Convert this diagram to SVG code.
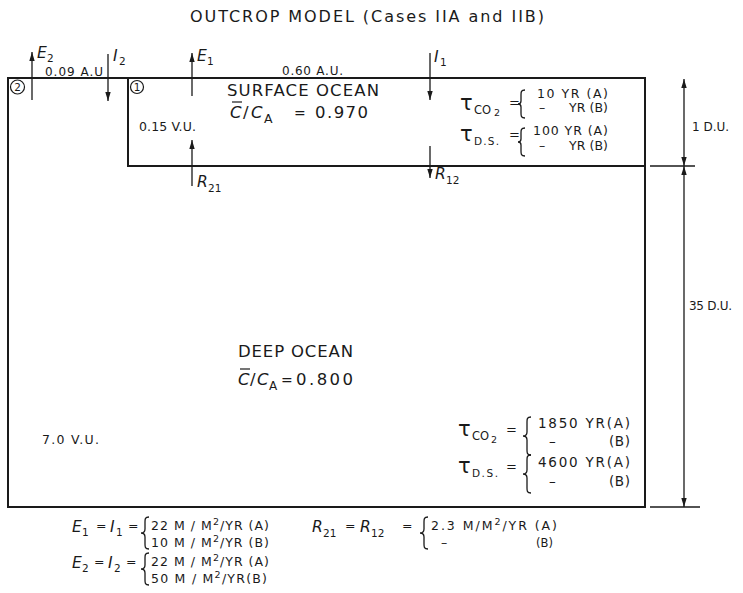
<svg xmlns="http://www.w3.org/2000/svg" width="743" height="593" viewBox="0 0 743 593">
<defs>
<style>
.t{font-family:"DejaVu Sans","Liberation Sans",sans-serif;fill:#1a1a1a}
.i{font-style:italic}
.box{stroke:#1a1a1a;stroke-width:2;fill:none}
.ar{stroke:#1a1a1a;stroke-width:1.3;fill:none}
.br{stroke:#1a1a1a;stroke-width:1.3;fill:none}
.tau{font-family:"DejaVu Sans",sans-serif;fill:#1a1a1a;font-size:21px}
</style>
<marker id="ah" viewBox="0 0 10 6" refX="10" refY="3" markerWidth="9" markerHeight="5.4" orient="auto" markerUnits="userSpaceOnUse">
<path d="M0,0 L10,3 L0,6 Z" fill="#1a1a1a"/>
</marker>
</defs>
<rect width="743" height="593" fill="#ffffff"/>

<text class="t" x="190" y="22" font-size="16" textLength="354">OUTCROP  MODEL  (Cases IIA and IIB)</text>

<g id="deep-ocean">
<path class="box" d="M8,78 H645 V507 H8 Z"/>
<circle cx="17.5" cy="87" r="7" fill="none" stroke="#1a1a1a" stroke-width="1.2"/>
<text class="t" x="17.5" y="91" font-size="10.5" text-anchor="middle">2</text>
<text class="t" x="45" y="76" font-size="12" textLength="58">0.09 A.U</text>
<text class="t" x="238" y="357" font-size="16.5" textLength="115">DEEP OCEAN</text>
<text class="t i" x="238" y="385" font-size="16.5">C</text>
<line x1="240" y1="369" x2="250" y2="369" stroke="#1a1a1a" stroke-width="1.2"/>
<text class="t" x="250" y="385" font-size="16.5">/</text>
<text class="t i" x="257" y="385" font-size="16.5">C</text>
<text class="t" x="269" y="390" font-size="12">A</text>
<text class="t" x="281" y="385" font-size="14">=</text>
<text class="t" x="296" y="385" font-size="16.5" textLength="57">0.800</text>
<text class="t" x="42" y="444" font-size="12.5" textLength="57">7.0 V.U.</text>
<text class="tau" x="458" y="436">τ</text>
<text class="t" x="472" y="440" font-size="11.5">CO</text>
<text class="t" x="491" y="443" font-size="9.5">2</text>
<text class="t" x="506" y="434" font-size="13">=</text>
<path class="br" d="M531,417 C527,417 527,419 527,422 L527,432 C527,434 526,436 523,436 C526,436 527,438 527,440 L527,450 C527,453 527,455 531,455"/>
<text class="t" x="538" y="428" font-size="13.5" textLength="92">1850 YR(A)</text>
<text class="t" x="549" y="446" font-size="13.5">–</text>
<text class="t" x="609" y="446" font-size="13.5" textLength="21">(B)</text>
<text class="tau" x="458" y="473">τ</text>
<text class="t" x="472" y="477" font-size="10.5" textLength="26">D.S.</text>
<text class="t" x="506" y="471" font-size="13">=</text>
<path class="br" d="M531,455 C527,455 527,457 527,460 L527,470 C527,472 526,474 523,474 C526,474 527,476 527,478 L527,488 C527,491 527,493 531,493"/>
<text class="t" x="538" y="467" font-size="13.5" textLength="92">4600 YR(A)</text>
<text class="t" x="549" y="486" font-size="13.5">–</text>
<text class="t" x="609" y="486" font-size="13.5" textLength="21">(B)</text>
</g>

<g id="surface-ocean">
<path class="box" d="M128,78 V166 H645"/>
<circle cx="137" cy="87" r="6.5" fill="none" stroke="#1a1a1a" stroke-width="1.2"/>
<text class="t" x="137" y="91" font-size="10.5" text-anchor="middle">1</text>
<text class="t" x="282" y="75" font-size="12" textLength="61">0.60 A.U.</text>
<text class="t" x="227" y="96" font-size="16.5" textLength="152">SURFACE OCEAN</text>
<text class="t i" x="230" y="118" font-size="16.5">C</text>
<line x1="232" y1="102" x2="242" y2="102" stroke="#1a1a1a" stroke-width="1.2"/>
<text class="t" x="243" y="118" font-size="16.5">/</text>
<text class="t i" x="251" y="118" font-size="16.5">C</text>
<text class="t" x="264" y="123" font-size="12.5">A</text>
<text class="t" x="294" y="118" font-size="14">=</text>
<text class="t" x="315" y="118" font-size="16.5" textLength="53">0.970</text>
<text class="t" x="139" y="131" font-size="12.5" textLength="57">0.15 V.U.</text>
<text class="tau" x="460" y="110">τ</text>
<text class="t" x="474" y="114" font-size="11.5">CO</text>
<text class="t" x="494" y="116" font-size="9.5">2</text>
<text class="t" x="509" y="107" font-size="13">=</text>
<path class="br" d="M525,90 C521,90 521,92 521,95 L521,101 C521,103 520,104 518,104 C520,104 521,105 521,107 L521,113 C521,116 521,118 525,118"/>
<text class="t" x="537" y="98" font-size="12.5" textLength="71">10  YR (A)</text>
<text class="t" x="539" y="112" font-size="12.5">–</text>
<text class="t" x="569" y="112" font-size="12.5" textLength="39">YR (B)</text>
<text class="tau" x="460" y="141">τ</text>
<text class="t" x="474" y="145" font-size="10.5" textLength="25">D.S.</text>
<text class="t" x="509" y="139" font-size="13">=</text>
<path class="br" d="M525,128 C521,128 521,130 521,133 L521,139 C521,141 520,142 518,142 C520,142 521,143 521,145 L521,151 C521,154 521,156 525,156"/>
<text class="t" x="533" y="135" font-size="12.5" textLength="75">100 YR (A)</text>
<text class="t" x="539" y="150" font-size="12.5">–</text>
<text class="t" x="569" y="150" font-size="12.5" textLength="39">YR (B)</text>
</g>

<g id="connectors">
<line class="ar" x1="32" y1="100" x2="32" y2="52" marker-end="url(#ah)"/>
<line class="ar" x1="108" y1="54" x2="108" y2="101" marker-end="url(#ah)"/>
<line class="ar" x1="192" y1="96" x2="192" y2="53" marker-end="url(#ah)"/>
<line class="ar" x1="430" y1="53" x2="430" y2="100" marker-end="url(#ah)"/>
<line class="ar" x1="192" y1="186" x2="192" y2="140" marker-end="url(#ah)"/>
<line class="ar" x1="430" y1="146" x2="430" y2="178" marker-end="url(#ah)"/>
<line class="ar" x1="650" y1="166" x2="695" y2="166"/>
<line class="ar" x1="650" y1="507" x2="700" y2="507"/>
<line class="ar" x1="684" y1="122" x2="684" y2="79" marker-end="url(#ah)"/>
<line class="ar" x1="684" y1="122" x2="684" y2="166" marker-end="url(#ah)"/>
<line class="ar" x1="684" y1="300" x2="684" y2="166" marker-end="url(#ah)"/>
<line class="ar" x1="684" y1="300" x2="684" y2="507" marker-end="url(#ah)"/>
</g>

<g id="flux-labels">
<text class="t i" x="37" y="58" font-size="15.5">E</text>
<text class="t" x="47" y="62" font-size="10.5">2</text>
<text class="t i" x="113" y="61" font-size="15.5">I</text>
<text class="t" x="119" y="65" font-size="10.5">2</text>
<text class="t i" x="197" y="61" font-size="15.5">E</text>
<text class="t" x="207" y="65" font-size="10.5">1</text>
<text class="t i" x="434" y="62" font-size="15.5">I</text>
<text class="t" x="440" y="66" font-size="10.5">1</text>
<text class="t i" x="197" y="187" font-size="15.5">R</text>
<text class="t" x="208" y="192" font-size="10.5">21</text>
<text class="t i" x="435" y="179" font-size="15.5">R</text>
<text class="t" x="446" y="184" font-size="10.5">12</text>
<text class="t" x="692" y="131" font-size="12">1 D.U.</text>
<text class="t" x="689" y="310" font-size="12" textLength="43">35 D.U.</text>
</g>

<g id="legend">
<text class="t i" x="72" y="532" font-size="15.5">E</text>
<text class="t" x="82" y="536" font-size="10.5">1</text>
<text class="t" x="96" y="530" font-size="12.5">=</text>
<text class="t i" x="110" y="532" font-size="15.5">I</text>
<text class="t" x="116" y="536" font-size="10.5">1</text>
<text class="t" x="128" y="530" font-size="12.5">=</text>
<path class="br" d="M149,517 C145,517 145,519 145,522 L145,529 C145,531 144,533 141,533 C144,533 145,535 145,537 L145,544 C145,547 145,549 149,549"/>
<text class="t" x="151" y="530" font-size="12.5" textLength="118">22 M / M<tspan dy="-5" font-size="9.5">2</tspan><tspan dy="5">/YR (A)</tspan></text>
<text class="t" x="151" y="547" font-size="12.5" textLength="118">10 M / M<tspan dy="-5" font-size="9.5">2</tspan><tspan dy="5">/YR (B)</tspan></text>

<text class="t i" x="72" y="568" font-size="15.5">E</text>
<text class="t" x="82" y="572" font-size="10.5">2</text>
<text class="t" x="94" y="566" font-size="12.5">=</text>
<text class="t i" x="108" y="568" font-size="15.5">I</text>
<text class="t" x="114" y="572" font-size="10.5">2</text>
<text class="t" x="126" y="566" font-size="12.5">=</text>
<path class="br" d="M149,553 C145,553 145,555 145,558 L145,565 C145,567 144,569 141,569 C144,569 145,571 145,573 L145,580 C145,583 145,585 149,585"/>
<text class="t" x="151" y="566" font-size="12.5" textLength="118">22 M / M<tspan dy="-5" font-size="9.5">2</tspan><tspan dy="5">/YR (A)</tspan></text>
<text class="t" x="151" y="583" font-size="12.5" textLength="116">50 M / M<tspan dy="-5" font-size="9.5">2</tspan><tspan dy="5">/YR(B)</tspan></text>

<text class="t i" x="312" y="532" font-size="15.5">R</text>
<text class="t" x="323" y="537" font-size="10.5">21</text>
<text class="t" x="345" y="530" font-size="12.5">=</text>
<text class="t i" x="360" y="532" font-size="15.5">R</text>
<text class="t" x="371" y="537" font-size="10.5">12</text>
<text class="t" x="402" y="530" font-size="12.5">=</text>
<path class="br" d="M428,517 C424,517 424,519 424,522 L424,529 C424,531 423,533 420,533 C423,533 424,535 424,537 L424,544 C424,547 424,549 428,549"/>
<text class="t" x="431" y="530" font-size="12.5" textLength="126">2.3  M/M<tspan dy="-5" font-size="9.5">2</tspan><tspan dy="5">/YR (A)</tspan></text>
<text class="t" x="441" y="547" font-size="12.5">–</text>
<text class="t" x="536" y="547" font-size="11.5">(B)</text>
</g>
</svg>
